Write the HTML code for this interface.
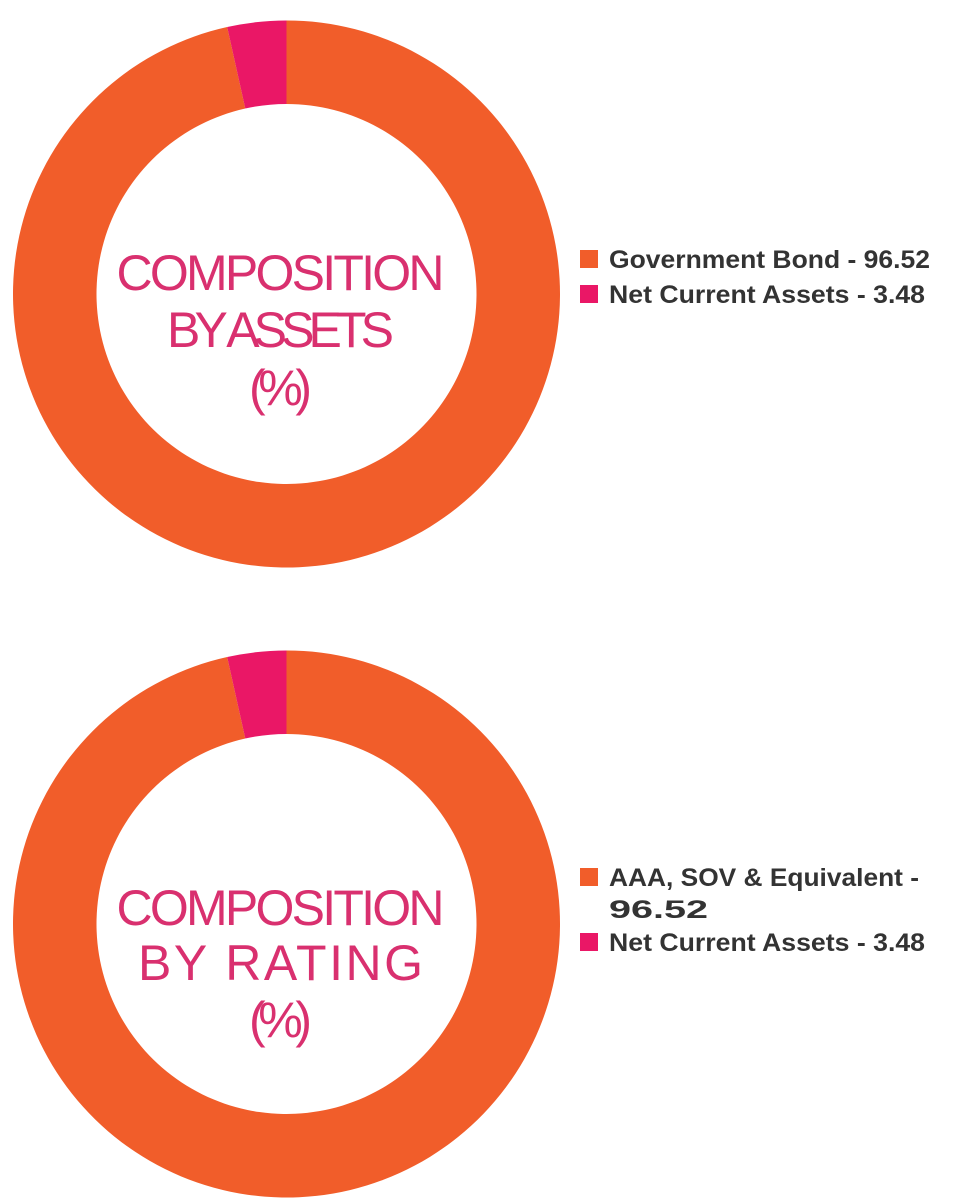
<!DOCTYPE html>
<html><head><meta charset="utf-8"><style>
html,body{margin:0;padding:0;background:#fff;}
svg{display:block;font-family:"Liberation Sans",sans-serif;}
</style></head><body>
<svg id="chart" width="954" height="1198" viewBox="0 0 954 1198"></svg>
<script>
const assetLabels = ["Government Bond - 96.52", "Net Current Assets - 3.48"];
const assetValues = [96.52, 3.48];
const ratingLabels = [["AAA, SOV & Equivalent -", "96.52"], ["Net Current Assets - 3.48"]];
const ratingValues = [96.52, 3.48];
const colors = ["#f15d2a", "#ea1766"];
const NS = "http://www.w3.org/2000/svg";
const svg = document.getElementById("chart");
function mk(tag, attrs, parent) {
  const e = document.createElementNS(NS, tag);
  for (const k in attrs) e.setAttribute(k, attrs[k]);
  (parent || svg).appendChild(e);
  return e;
}
function arcPath(cx, cy, R, r, a0, a1) {
  const p = (rad, a) => [cx + rad * Math.sin(a), cy - rad * Math.cos(a)];
  const large = (a1 - a0) > Math.PI ? 1 : 0;
  const [x0, y0] = p(R, a0), [x1, y1] = p(R, a1), [x2, y2] = p(r, a1), [x3, y3] = p(r, a0);
  return `M${x0},${y0} A${R},${R} 0 ${large} 1 ${x1},${y1} L${x2},${y2} A${r},${r} 0 ${large} 0 ${x3},${y3} Z`;
}
function donut(name, cx, cy, values, titleLines, titleY) {
  const g = mk("g", {});
  
  
  const total = values.reduce((a, b) => a + b, 0);
  let a = 0;
  values.forEach((v, i) => {
    const a1 = a + v / total * 2 * Math.PI;
    const s = mk("path", { d: arcPath(cx, cy, 273.5, 190, a, a1), fill: colors[i] }, g);
    
    
    a = a1;
  });
  titleLines.forEach((t, i) => {
    const tx = mk("text", { x: cx - 6, y: titleY[i], "text-anchor": "middle", fill: "#d9306f", "font-size": 50 }, g);
    if (t.len) tx.setAttribute("textLength", t.len);
    tx.textContent = t.s;
    
    
  });
}
donut("assets-donut", 286.5, 294, assetValues,
  [{ s: "COMPOSITION", len: 328 }, { s: "BY ASSETS", len: 227 }, { s: "(%)", len: 63 }], [290, 347, 405]);
donut("rating-donut", 286.5, 924, ratingValues,
  [{ s: "COMPOSITION", len: 328 }, { s: "BY RATING", len: 285 }, { s: "(%)", len: 63 }], [925, 980, 1037]);

function legendEntry(name, y, color, lines, lens) {
  const g = mk("g", {});
  
  
  mk("rect", { x: 580, y: y - 18, width: 18, height: 18, fill: color }, g);
  lines.forEach((l, i) => {
    const t = mk("text", { x: 609, y: y + i * 32, "font-size": 25, "font-weight": "bold", fill: "#333333", textLength: lens[i], lengthAdjust: "spacingAndGlyphs" }, g);
    t.textContent = l;
  });
}
legendEntry("legend-government-bond", 268, colors[0], [assetLabels[0]], [321]);
legendEntry("legend-net-current-assets", 303, colors[1], [assetLabels[1]], [316]);
legendEntry("legend-aaa-sov", 886, colors[0], ratingLabels[0], [310, 99]);
legendEntry("legend-net-current-assets-rating", 951, colors[1], ratingLabels[1], [316]);
</script>
</body></html>
